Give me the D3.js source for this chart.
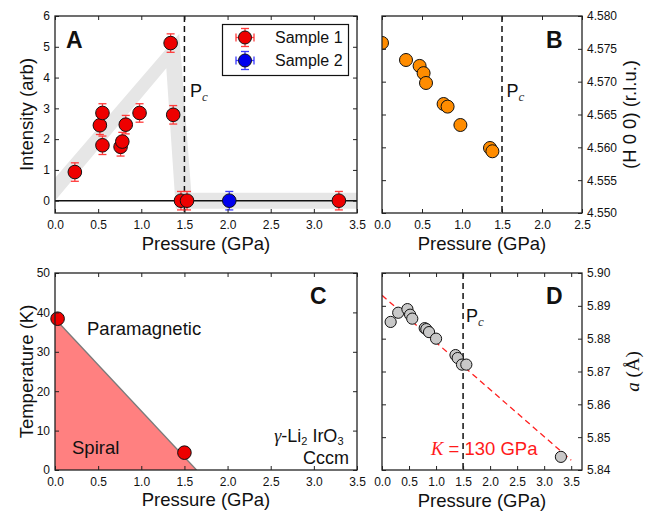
<!DOCTYPE html>
<html><head><meta charset="utf-8">
<script src="https://cdn.jsdelivr.net/npm/d3@7"></script>
<style>
body{margin:0;background:#fff;}
svg{display:block;font-family:"Liberation Sans",Arial,sans-serif;}
.tick text{font-size:12px;fill:#111;font-family:"Liberation Sans",Arial,sans-serif;}
.tick line{stroke:#222;stroke-width:1;}
</style></head>
<body>
<svg id="c" width="646" height="512"></svg>
<script>
// ---- Panel A: magnetic peak intensity ----
const sample1P   = [0.23, 0.52, 0.55, 0.55, 0.76, 0.78, 0.82, 0.98, 1.34, 1.37, 1.46, 1.53, 3.29];
const sample1I   = [0.93, 2.45, 2.85, 1.80, 1.75, 1.92, 2.47, 2.85, 5.12, 2.79, 0.00, 0.00, 0.00];
const sample1Err = [0.30, 0.30, 0.30, 0.30, 0.30, 0.30, 0.30, 0.30, 0.30, 0.30, 0.30, 0.30, 0.30];
const sample2P   = [2.02];
const sample2I   = [0.00];
const sample2Err = [0.30];
// guide-to-the-eye band (polygon outline)
const bandP = [0, 1.29, 1.40, 3.6, 3.6, 1.58, 1.44, 0];
const bandI = [0, 4.30, -0.26, -0.26, 0.26, 0.26, 5.42, 0.74];
const intensityTicks = [0, 1, 2, 3, 4, 5, 6];
// ---- Panel B: (H 0 0) position ----
const hP   = [0.00, 0.30, 0.47, 0.52, 0.55, 0.77, 0.82, 0.98, 1.35, 1.38];
const hVal = [4.5759, 4.5733, 4.5724, 4.5713, 4.5698, 4.5666, 4.5662, 4.5634, 4.5599, 4.5594];
const hTicks = [4.550, 4.555, 4.560, 4.565, 4.570, 4.575, 4.580];
// ---- Panel C: phase diagram ----
const phaseP = [0.03, 1.50];
const phaseT = [38.4, 4.4];
const boundaryP = [0, 0, 1.64];
const boundaryT = [0, 38.4, 0];
const tempTicks = [0, 10, 20, 30, 40, 50];
// ---- Panel D: lattice parameter a ----
const latP = [0.16, 0.30, 0.47, 0.52, 0.56, 0.79, 0.82, 0.87, 1.00, 1.36, 1.40, 1.48, 1.56, 3.31];
const latA = [5.8851, 5.8879, 5.8890, 5.8873, 5.8861, 5.8832, 5.8829, 5.8820, 5.8800, 5.8750, 5.8741, 5.8721, 5.8721, 5.8440];
const fitP = [0, 3.5];
const fitA = [5.8932, 5.8430];
const latTicks = [5.84, 5.85, 5.86, 5.87, 5.88, 5.89, 5.90];
const pTicks35 = [0, 0.5, 1, 1.5, 2, 2.5, 3, 3.5];
const pTicks25 = [0, 0.5, 1, 1.5, 2, 2.5];
const Pc = 1.5;

const svg = d3.select("#c");
const f1 = d3.format(".1f");

function panel(id, L, R, T, B, xd, yd, xt, yt, yfmt, rightLabels){
  const x = d3.scaleLinear().domain(xd).range([L, R]);
  const y = d3.scaleLinear().domain(yd).range([B, T]);
  const g = svg.append("g");
  g.append("clipPath").attr("id", "clip" + id).append("rect")
    .attr("x", L).attr("y", T).attr("width", R - L).attr("height", B - T);
  const body = g.append("g");
  const clipped = body.append("g").attr("clip-path", "url(#clip" + id + ")");
  const axes = g.append("g");
  const ax = (gen, tr) => {
    const a = axes.append("g").attr("transform", tr).call(gen);
    a.select(".domain").remove();
    return a;
  };
  ax(d3.axisBottom(x).tickValues(xt).tickFormat(f1).tickSize(-4).tickPadding(7), `translate(0,${B})`);
  ax(d3.axisTop(x).tickValues(xt).tickFormat("").tickSize(-4), `translate(0,${T})`);
  ax(d3.axisLeft(y).tickValues(yt).tickFormat(rightLabels ? "" : yfmt).tickSize(-4).tickPadding(5), `translate(${L},0)`);
  ax(d3.axisRight(y).tickValues(yt).tickFormat(rightLabels ? yfmt : "").tickSize(-4).tickPadding(5), `translate(${R},0)`);
  const top = g.append("g");
  top.append("rect").attr("x", L).attr("y", T).attr("width", R - L).attr("height", B - T)
    .attr("fill", "none").attr("stroke", "#222").attr("stroke-width", 1.3);
  return {x, y, body, clipped, top, g};
}

function errbars(layer, xs, ys, es, x, y, color){
  xs.forEach((p, i) => {
    const cx = x(p), y1 = y(ys[i] + es[i]), y2 = y(ys[i] - es[i]);
    layer.append("line").attr("x1", cx).attr("x2", cx).attr("y1", y1).attr("y2", y2)
      .attr("stroke", color).attr("stroke-width", 1.3);
    [y1, y2].forEach(yy => layer.append("line").attr("x1", cx - 4).attr("x2", cx + 4)
      .attr("y1", yy).attr("y2", yy).attr("stroke", color).attr("stroke-width", 1.3));
  });
}
function dots(layer, xs, ys, x, y, r, fill){
  layer.selectAll(null).data(xs).enter().append("circle")
    .attr("cx", d => x(d)).attr("cy", (d, i) => y(ys[i])).attr("r", r)
    .attr("fill", fill).attr("stroke", "#111").attr("stroke-width", 1);
}
function pcLabel(layer, px, py){
  const t = layer.append("text").attr("x", px).attr("y", py).attr("font-size", 18).attr("fill", "#111").text("P");
  t.append("tspan").attr("font-family", "Liberation Serif, serif").attr("font-style", "italic")
    .attr("font-size", 13).attr("dy", 4).attr("fill", "#333").text("c");
}
function vdash(p, xv){
  p.body.append("line").attr("x1", p.x(xv)).attr("x2", p.x(xv))
    .attr("y1", p.y.range()[1]).attr("y2", p.y.range()[0])
    .attr("stroke", "#111").attr("stroke-width", 1.5).attr("stroke-dasharray", "6,4");
}
function letter(txt, xx, yy){
  svg.append("text").attr("x", xx).attr("y", yy).attr("font-size", 23).attr("font-weight", "bold")
    .attr("fill", "#111").text(txt);
}
function xlabel(cx, by){
  svg.append("text").attr("x", cx).attr("y", by).attr("text-anchor", "middle").attr("font-size", 18.5)
    .attr("fill", "#111").text("Pressure (GPa)");
}

// ===== Panel A =====
const A = panel("A", 55, 357, 16, 213, [0, 3.5], [-0.4, 6], pTicks35, intensityTicks, d3.format("d"), false);
A.clipped.append("path")
  .attr("d", d3.line()(bandP.map((p, i) => [A.x(p), A.y(bandI[i])])) + "Z")
  .attr("fill", "#e6e6e6");
A.body.append("line").attr("x1", A.x(0)).attr("x2", A.x(3.5)).attr("y1", A.y(0)).attr("y2", A.y(0))
  .attr("stroke", "#111").attr("stroke-width", 1.5);
vdash(A, Pc);
errbars(A.body, sample1P, sample1I, sample1Err, A.x, A.y, "#ff3b3b");
errbars(A.body, sample2P, sample2I, sample2Err, A.x, A.y, "#3b3bff");
dots(A.body, sample1P, sample1I, A.x, A.y, 6.8, "#ee0000");
dots(A.body, sample2P, sample2I, A.x, A.y, 6.8, "#0000ee");
pcLabel(A.body, 190, 97);
// legend
const lg = A.body.append("g");
lg.append("rect").attr("x", 222.5).attr("y", 24.5).attr("width", 126).attr("height", 51)
  .attr("fill", "#fff").attr("stroke", "#111").attr("stroke-width", 1.2);
[["Sample 1", "#ee0000", "#ff3b3b", 37.5, 43], ["Sample 2", "#0000ee", "#3b3bff", 60.5, 66]].forEach(([lab, fc, ec, cy, by]) => {
  const cx = 245;
  lg.append("line").attr("x1", cx - 9).attr("x2", cx + 9).attr("y1", cy).attr("y2", cy).attr("stroke", ec).attr("stroke-width", 1.3);
  lg.append("line").attr("x1", cx).attr("x2", cx).attr("y1", cy - 9).attr("y2", cy + 9).attr("stroke", ec).attr("stroke-width", 1.3);
  [-9, 9].forEach(o => {
    lg.append("line").attr("x1", cx - 4).attr("x2", cx + 4).attr("y1", cy + o).attr("y2", cy + o).attr("stroke", ec).attr("stroke-width", 1.3);
    lg.append("line").attr("x1", cx + o).attr("x2", cx + o).attr("y1", cy - 4).attr("y2", cy + 4).attr("stroke", ec).attr("stroke-width", 1.3);
  });
  lg.append("circle").attr("cx", cx).attr("cy", cy).attr("r", 6.5).attr("fill", fc).attr("stroke", "#111");
  lg.append("text").attr("x", 275).attr("y", by).attr("font-size", 16).attr("fill", "#111").text(lab);
});
letter("A", 66, 48);
xlabel(206, 250);
svg.append("text").attr("transform", "translate(33,114.5) rotate(-90)").attr("text-anchor", "middle")
  .attr("font-size", 18.5).attr("fill", "#111").text("Intensity (arb)");

// ===== Panel B =====
const B = panel("B", 382, 582, 16, 213, [0, 2.5], [4.550, 4.580], pTicks25, hTicks, d3.format(".3f"), true);
vdash(B, Pc);
dots(B.clipped, hP, hVal, B.x, B.y, 6.5, "#ff8c00");
pcLabel(B.body, 506.5, 97);
letter("B", 546, 48);
xlabel(482, 250);
svg.append("text").attr("transform", "translate(636,114.5) rotate(-90)").attr("text-anchor", "middle")
  .attr("font-size", 18.5).attr("fill", "#111").text("(H 0 0) (r.l.u.)");

// ===== Panel C =====
const C = panel("C", 55, 357, 273, 470, [0, 3.5], [0, 50], pTicks35, tempTicks, d3.format("d"), false);
C.clipped.append("path")
  .attr("d", d3.line()(boundaryP.map((p, i) => [C.x(p), C.y(boundaryT[i])])) + "Z")
  .attr("fill", "#ff8080");
C.clipped.append("line").attr("x1", C.x(boundaryP[1])).attr("y1", C.y(boundaryT[1]))
  .attr("x2", C.x(boundaryP[2])).attr("y2", C.y(boundaryT[2])).attr("stroke", "#7a7a7a").attr("stroke-width", 1.3);
dots(C.body, phaseP, phaseT, C.x, C.y, 6.8, "#ee0000");
C.body.append("text").attr("x", 87).attr("y", 335).attr("font-size", 18.5).attr("fill", "#111").text("Paramagnetic");
C.body.append("text").attr("x", 72).attr("y", 454).attr("font-size", 18.5).attr("fill", "#111").text("Spiral");
const gl = C.body.append("text").attr("x", 343.5).attr("y", 442).attr("text-anchor", "end").attr("font-size", 18).attr("fill", "#111");
gl.append("tspan").attr("font-family", "Liberation Serif, serif").attr("font-style", "italic").text("\u03b3");
gl.append("tspan").text("-Li");
gl.append("tspan").attr("font-size", 11).attr("dy", 3).text("2");
gl.append("tspan").attr("dy", -3).text(" IrO");
gl.append("tspan").attr("font-size", 11).attr("dy", 3).text("3");
C.body.append("text").attr("x", 349).attr("y", 464).attr("text-anchor", "end").attr("font-size", 18).attr("fill", "#111").text("Cccm");
letter("C", 310, 304);
xlabel(206, 506);
svg.append("text").attr("transform", "translate(33,371.5) rotate(-90)").attr("text-anchor", "middle")
  .attr("font-size", 18.5).attr("fill", "#111").text("Temperature (K)");

// ===== Panel D =====
const D = panel("D", 382, 582, 273, 470, [0, 3.7], [5.84, 5.90], pTicks35, latTicks, d3.format(".2f"), true);
vdash(D, Pc);
D.clipped.append("path").attr("d", d3.line()(fitP.map((p, i) => [D.x(p), D.y(fitA[i])])))
  .attr("stroke", "#ff2020").attr("stroke-width", 1.3).attr("stroke-dasharray", "6,4").attr("fill", "none");
dots(D.body, latP, latA, D.x, D.y, 5.6, "#c8c8c8");
pcLabel(D.body, 466, 322);
const kt = D.body.append("text").attr("x", 431).attr("y", 455).attr("font-size", 18.5).attr("fill", "#ff1a1a");
kt.append("tspan").attr("font-family", "Liberation Serif, serif").attr("font-style", "italic").text("K");
kt.append("tspan").text(" = 130 GPa");
letter("D", 546, 304);
xlabel(482, 507);
const al = svg.append("text").attr("transform", "translate(639,371.5) rotate(-90)").attr("text-anchor", "middle")
  .attr("font-size", 19).attr("fill", "#111").attr("font-family", "Liberation Serif, serif");
al.append("tspan").attr("font-style", "italic").text("a");
al.append("tspan").text(" (\u00c5)");
</script>
</body></html>
